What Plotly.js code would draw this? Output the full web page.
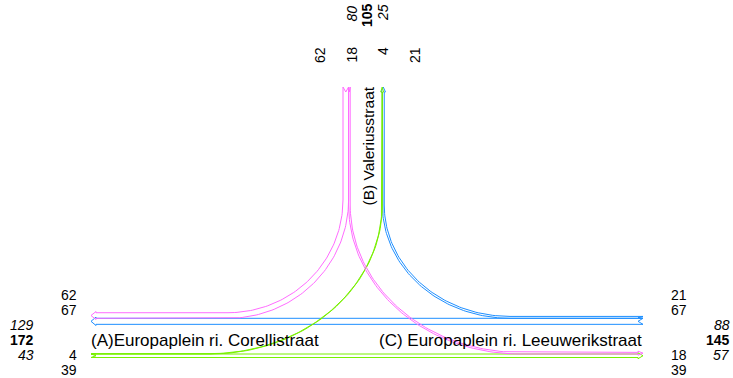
<!DOCTYPE html>
<html><head><meta charset="utf-8">
<script src="https://cdn.plot.ly/plotly-3.0.1.min.js"></script>
<style>html,body{margin:0;padding:0;background:#fff}</style>
</head><body><div id="chart" style="width:733px;height:378px"></div>
<script>
// ---- data ----
const armNames = ['(A)Europaplein ri. Corellistraat', '(B) Valeriusstraat', '(C) Europaplein ri. Leeuwerikstraat'];
const flowFrom = ['B', 'C', 'A', 'A', 'B', 'C'];
const flowTo   = ['A', 'A', 'B', 'C', 'C', 'B'];
const flowValues = [62, 67, 4, 39, 18, 21];
const originColors = {A: '#78f000', B: '#ff6cff', C: '#1e8fff'};

function q(f, t) { for (let i = 0; i < flowFrom.length; i++) if (flowFrom[i] === f && flowTo[i] === t) return flowValues[i]; return 0; }

// ---- geometry (pixel-like units) ----
const S = 0.09;           // px per vehicle
const X_LEFT = 91, X_RIGHT = 643, Y_TOP = 87;
const Y_WEST = 318.3, Y_EAST = 354;
const X_BOUT = 343, X_BIN = 382;
const H = 5, BARB = 1.2;

function arc(cx, cy, rx, ry, t0, t1, n) {
  const p = [];
  for (let i = 0; i <= n; i++) { const t = t0 + (t1 - t0) * i / n; p.push([cx + rx * Math.cos(t), cy + ry * Math.sin(t)]); }
  return p;
}
function ribbon(path, w) {
  const n = path.length;
  const norms = [];
  for (let i = 0; i < n - 1; i++) {
    const a = path[Math.max(0, i - 1)], b = path[Math.min(n - 2, i + 1)];
    let dx = b[0] - a[0], dy = b[1] - a[1];
    if (i === 0) { dx = path[1][0] - path[0][0]; dy = path[1][1] - path[0][1]; }
    const L = Math.hypot(dx, dy); norms.push([-dy / L, dx / L]);
  }
  const L = [], R = [];
  for (let i = 0; i < n - 1; i++) {
    L.push([path[i][0] + norms[i][0] * w / 2, path[i][1] + norms[i][1] * w / 2]);
    R.push([path[i][0] - norms[i][0] * w / 2, path[i][1] - norms[i][1] * w / 2]);
  }
  const d0x = path[1][0] - path[0][0], d0y = path[1][1] - path[0][1], d0 = Math.hypot(d0x, d0y);
  const notch = [path[0][0] + d0x / d0 * H, path[0][1] + d0y / d0 * H];
  const hb = path[n - 2], nn = norms[n - 2];
  const bl = [hb[0] + nn[0] * (w / 2 + BARB), hb[1] + nn[1] * (w / 2 + BARB)];
  const br = [hb[0] - nn[0] * (w / 2 + BARB), hb[1] - nn[1] * (w / 2 + BARB)];
  return [notch].concat(L, [bl, path[n - 1], br], R.slice().reverse(), [notch]);
}

const w = {};
flowFrom.forEach((f, i) => { w[f + flowTo[i]] = flowValues[i] * S; });

const paths = {};
{ const y = Y_WEST + w.CA / 2; paths.CA = [[X_RIGHT, y], [X_LEFT + H, y], [X_LEFT, y]]; }
{ const y = Y_EAST + w.AC / 2; paths.AC = [[X_LEFT, y], [X_RIGHT - H, y], [X_RIGHT, y]]; }
{ const xv = X_BOUT + w.BA / 2, yh = Y_WEST - w.BA / 2, cx = 228, cy = 200;
  paths.BA = [[xv, Y_TOP]].concat(arc(cx, cy, xv - cx, yh - cy, 0, Math.PI / 2, 80), [[X_LEFT + H, yh], [X_LEFT, yh]]); }
{ const xv = X_BOUT + w.BA + w.BC / 2, yh = Y_EAST - w.BC / 2, cx = 520, cy = 205;
  paths.BC = [[xv, Y_TOP]].concat(arc(cx, cy, cx - xv, yh - cy, Math.PI, Math.PI / 2, 80), [[X_RIGHT - H, yh], [X_RIGHT, yh]]); }
{ const xv = X_BIN + w.AB / 2, yh = Y_EAST - w.AB / 2, cx = 210, cy = 205;
  paths.AB = [[X_LEFT, yh]].concat(arc(cx, cy, xv - cx, yh - cy, Math.PI / 2, 0, 80), [[xv, Y_TOP + H], [xv, Y_TOP]]); }
{ const xv = X_BIN + w.AB + w.CB / 2, yh = Y_WEST - w.CB / 2, cx = 510, cy = 205;
  paths.CB = [[X_RIGHT, yh]].concat(arc(cx, cy, cx - xv, yh - cy, Math.PI / 2, Math.PI, 80), [[xv, Y_TOP + H], [xv, Y_TOP]]); }

const traces = ['CA', 'AC', 'BA', 'CB', 'AB', 'BC'].map(k => {
  const poly = ribbon(paths[k], Math.max(w[k], 0.4));
  return {type: 'scatter', mode: 'lines', x: poly.map(p => p[0]), y: poly.map(p => p[1]),
    line: {color: originColors[k[0]], width: 1}, hoverinfo: 'skip'};
});

// ---- text ----
const FONT = 'Liberation Sans, Arial, sans-serif';
const ann = [];
function t(text, x, y, xa, ya, opts) {
  opts = opts || {};
  const a = {text: text, x: x, y: y, xref: 'x', yref: 'y', xanchor: xa, yanchor: ya, showarrow: false,
    borderpad: 0, borderwidth: 0,
    font: {family: FONT, size: opts.size || 14, color: '#000', weight: opts.bold ? 'bold' : 'normal', style: opts.italic ? 'italic' : 'normal'}};
  if (opts.angle !== undefined) a.textangle = opts.angle;
  ann.push(a);
}
const inA = q('B','A') + q('C','A'), outA = q('A','B') + q('A','C');
const outB = q('B','A') + q('B','C'), inB = q('A','B') + q('C','B');
const outC = q('C','B') + q('C','A'), inC = q('B','C') + q('A','C');

// arm A (left)
t(String(q('B','A')), 77, 295, 'right', 'middle');
t(String(q('C','A')), 77, 310, 'right', 'middle');
t(String(q('A','B')), 77, 355, 'right', 'middle');
t(String(q('A','C')), 77, 370, 'right', 'middle');
t(String(inA), 34, 325, 'right', 'middle', {italic: true});
t(String(inA + outA), 34, 340, 'right', 'middle', {bold: true});
t(String(outA), 34, 355, 'right', 'middle', {italic: true});
// arm C (right)
t(String(q('C','B')), 671, 295, 'left', 'middle');
t(String(q('C','A')), 671, 310, 'left', 'middle');
t(String(q('B','C')), 671, 355, 'left', 'middle');
t(String(q('A','C')), 671, 370, 'left', 'middle');
t(String(outC), 730, 325, 'right', 'middle', {italic: true});
t(String(outC + inC), 730, 340, 'right', 'middle', {bold: true});
t(String(inC), 730, 355, 'right', 'middle', {italic: true});
// arm B (top)
t(String(q('B','A')), 320, 47, 'center', 'top', {angle: -90});
t(String(q('B','C')), 351.5, 47, 'center', 'top', {angle: -90});
t(String(q('A','B')), 383, 47, 'center', 'top', {angle: -90});
t(String(q('C','B')), 415, 47, 'center', 'top', {angle: -90});
t(String(outB), 351.5, 14, 'center', 'middle', {angle: -90, italic: true});
t(String(outB + inB), 367, 15, 'center', 'middle', {angle: -90, bold: true});
t(String(inB), 383, 13, 'center', 'middle', {angle: -90, italic: true});
// arm names
t(armNames[0], 91, 340, 'left', 'middle', {size: 17});
t(armNames[2], 642, 340, 'right', 'middle', {size: 17});
t(armNames[1], 368, 206, 'center', 'bottom', {size: 15.5, angle: -90});

const layout = {width: 733, height: 378, margin: {l: 0, r: 0, t: 0, b: 0},
  paper_bgcolor: '#fff', plot_bgcolor: '#fff', showlegend: false,
  xaxis: {range: [0, 733], visible: false, fixedrange: true},
  yaxis: {range: [378, 0], visible: false, fixedrange: true},
  annotations: ann};
Plotly.newPlot('chart', traces, layout, {staticPlot: true, displayModeBar: false});
</script></body></html>
